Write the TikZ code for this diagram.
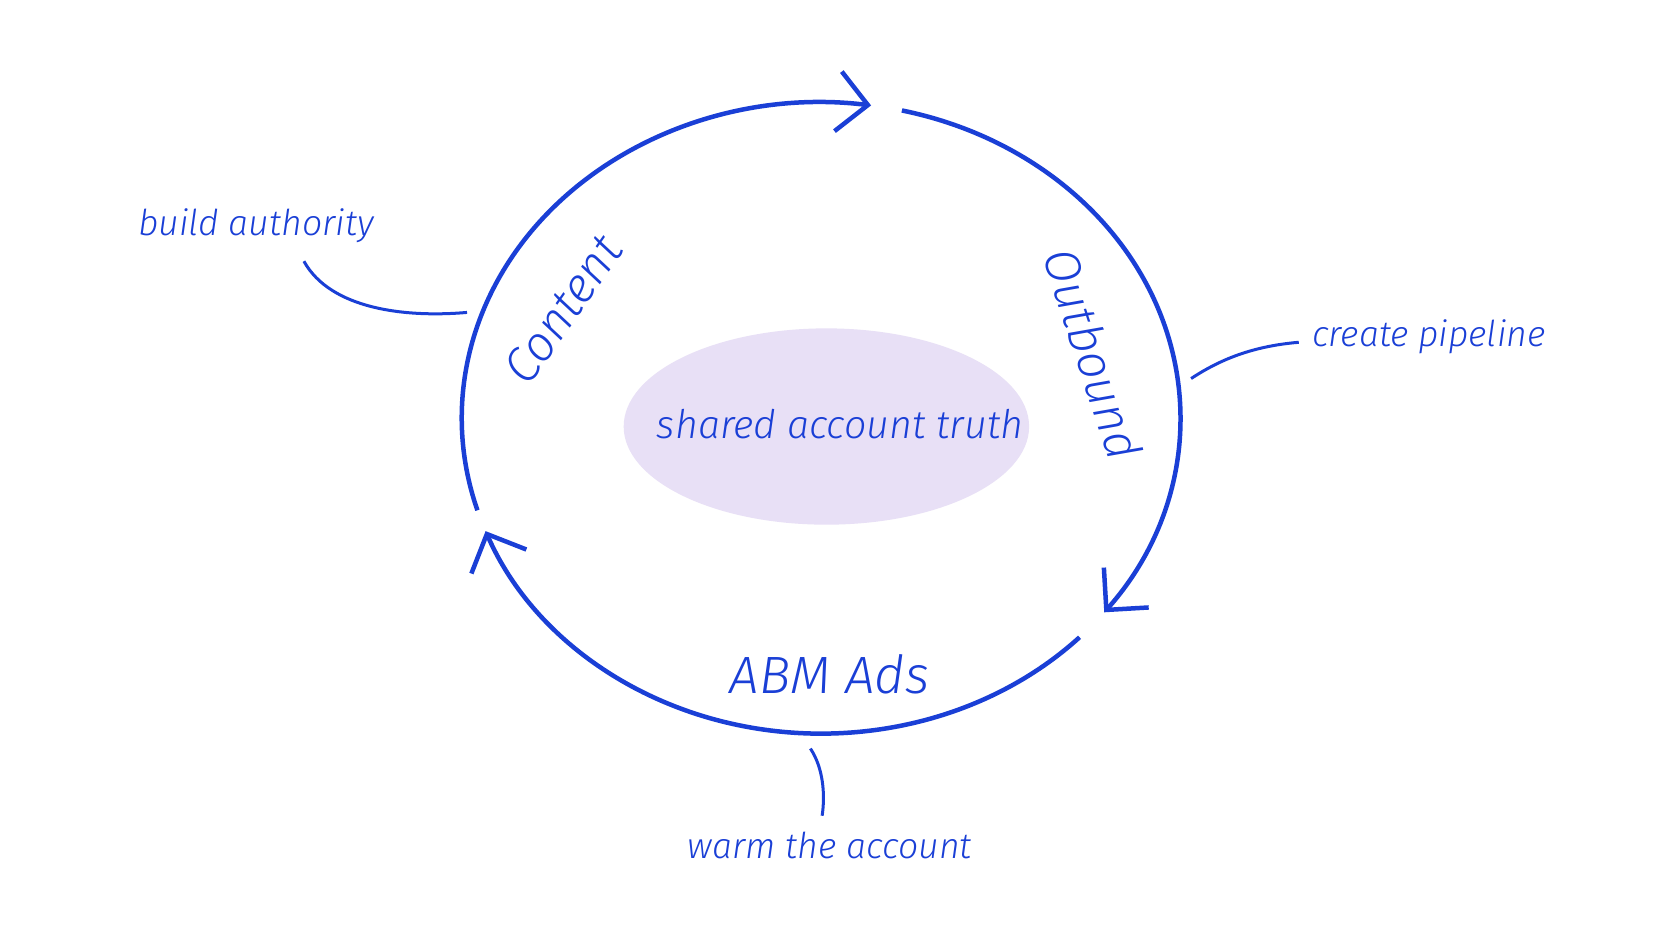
\documentclass[tikz,border=0pt]{standalone}
\usepackage{fontspec}
\newfontfamily\hand{Fira Sans Light}
\usetikzlibrary{arrows.meta,shapes.geometric}
\definecolor{ink}{HTML}{1A3FD6}
\definecolor{lav}{HTML}{E8E0F6}
\begin{document}
\begin{tikzpicture}[x=0.01cm,y=-0.01cm,
  ring/.style={draw=ink,line width=1.2pt,-{Straight Barb[length=8pt,width=16pt,line width=1.2pt]}},
  lead/.style={draw=ink,line width=0.8pt},
  lbl/.style={text=ink,font=\hand\itshape\fontsize{9.5}{11}\selectfont},
  big/.style={text=ink,font=\hand\itshape\fontsize{13}{15}\selectfont}]
\fill[white] (0,0) rectangle (1568,882);
\useasboundingbox (0,0) rectangle (1568,882);
\node[ellipse,fill=lav,minimum width=3.8cm,minimum height=1.84cm,inner sep=0] (core) at (775,400) {};
\node[lbl,font=\hand\itshape\fontsize{10.5}{12}\selectfont] (coretext) at (788,398) {shared account truth};
\coordinate (c) at (770,392);
\draw[ring] ([shift={(197:337 and -296)}]c) arc[start angle=197,end angle=82,x radius=337,y radius=-296];
\draw[ring] ([shift={(77:337 and -296)}]c) arc[start angle=77,end angle=-38,x radius=337,y radius=-296];
\draw[ring] ([shift={(-44:337 and -296)}]c) arc[start angle=-44,end angle=-159,x radius=337,y radius=-296];
\node[big,rotate=55] (content) at (528,290) {Content};
\node[big,rotate=-72] (outbound) at (1025,332) {Outbound};
\node[big,font=\hand\itshape\fontsize{14}{16}\selectfont] (abm) at (778,632) {ABM Ads};
\node[lbl] (ba) at (240,212) {build authority};
\node[lbl] (cp) at (1340,316) {create pipeline};
\node[lbl] (wa) at (778,793) {warm the account};
\coordinate (ba1) at (285,245); \coordinate (ba2) at (438,293);
\draw[lead] (ba1) .. controls (310,290) and (380,298) .. (ba2);
\coordinate (cp1) at (1218,321); \coordinate (cp2) at (1117,355);
\draw[lead] (cp1) .. controls (1170,325) and (1140,340) .. (cp2);
\coordinate (wa1) at (760,702); \coordinate (wa2) at (771,765);
\draw[lead] (wa1) .. controls (772,720) and (774,745) .. (wa2);
\end{tikzpicture}
\end{document}
